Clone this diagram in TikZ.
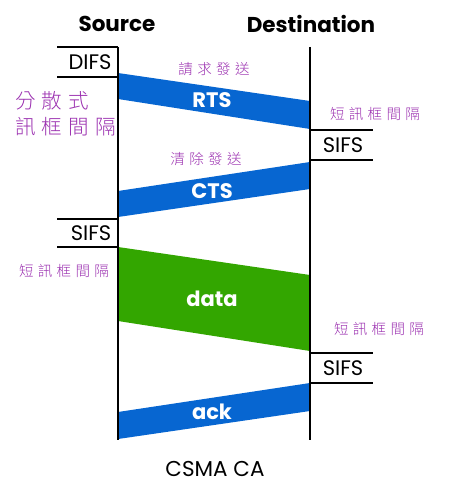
\documentclass[tikz,border=0pt]{standalone}
\usepackage{fontspec}
\setmainfont{Poppins}
\newfontfamily\cjk[LetterSpace=30]{Noto Sans CJK TC Light}
\definecolor{bandblue}{HTML}{0766D1}
\definecolor{bandgreen}{HTML}{33A600}
\definecolor{note}{HTML}{9B30B0}
\begin{document}
\begin{tikzpicture}[x=1pt,y=-1pt,
  lifeline/.style={line width=2pt,black},
  gap/.style={line width=1.6pt,black},
  title/.style={font=\fontsize{21.5}{25}\selectfont\bfseries},
  gaplabel/.style={font=\fontsize{21}{24}\selectfont},
  bandlabel/.style={font=\fontsize{21}{24}\selectfont\bfseries,text=white},
  note/.style={font=\cjk\fontsize{14.5}{17}\selectfont,text=note,inner sep=0pt},
  bignote/.style={font=\cjk\fontsize{20.5}{26}\selectfont,text=note,inner sep=0pt,align=left}]
\useasboundingbox (0,0) rectangle (450,492);
% titles
\node[title] (src) at (117,24) {Source};
\node[title] (dst) at (311,24) {Destination};
% lifelines
\coordinate (s0) at (118,47); \coordinate (s1) at (118,440);
\coordinate (d0) at (310,47); \coordinate (d1) at (310,440);
% bands
\fill[bandblue] (118,73) -- (310,101) -- (310,129) -- (118,99) -- cycle;
\fill[bandblue] (310,162) -- (118,191) -- (118,217) -- (310,189) -- cycle;
\fill[bandgreen] (118,247) -- (310,275) -- (310,351) -- (118,321) -- cycle;
\fill[bandblue] (310,383) -- (118,412) -- (118,439) -- (310,411) -- cycle;
\draw[lifeline] (s0) -- (s1);
\draw[lifeline] (d0) -- (d1);
% gap boxes
\coordinate (difsA) at (57,47); \coordinate (difsB) at (57,77);
\draw[gap] (difsA) -- (118,47); \draw[gap] (difsB) -- (118,77);
\node[gaplabel] (difs) at (90,62) {DIFS};
\coordinate (sifs1A) at (373,130); \coordinate (sifs1B) at (373,160);
\draw[gap] (310,130) -- (sifs1A); \draw[gap] (310,160) -- (sifs1B);
\node[gaplabel] (sifs1) at (343,145) {SIFS};
\coordinate (sifs2A) at (57,219); \coordinate (sifs2B) at (57,247);
\draw[gap] (sifs2A) -- (118,219); \draw[gap] (sifs2B) -- (118,247);
\node[gaplabel] (sifs2) at (91,233) {SIFS};
\coordinate (sifs3A) at (373,353); \coordinate (sifs3B) at (373,383);
\draw[gap] (310,353) -- (sifs3A); \draw[gap] (310,383) -- (sifs3B);
\node[gaplabel] (sifs3) at (343,368) {SIFS};
% band labels
\node[bandlabel] (rts) at (212,100) {RTS};
\node[bandlabel] (cts) at (212,191) {CTS};
\node[bandlabel] (data) at (212,299) {data};
\node[bandlabel] (ack) at (212,412) {ack};
% notes
\node[note] (n1) at (214,69) {請求發送};
\node[note] (n2) at (375,114) {短訊框間隔};
\node[note] (n3) at (206,159) {清除發送};
\node[note] (n4) at (64,271) {短訊框間隔};
\node[note] (n5) at (379,329) {短訊框間隔};
\node[bignote,anchor=north west] (n6) at (15,91) {分散式\\訊框間隔};
% caption
\node[font=\fontsize{21.5}{25}\selectfont] (cap) at (215,469) {CSMA CA};
\end{tikzpicture}
\end{document}
